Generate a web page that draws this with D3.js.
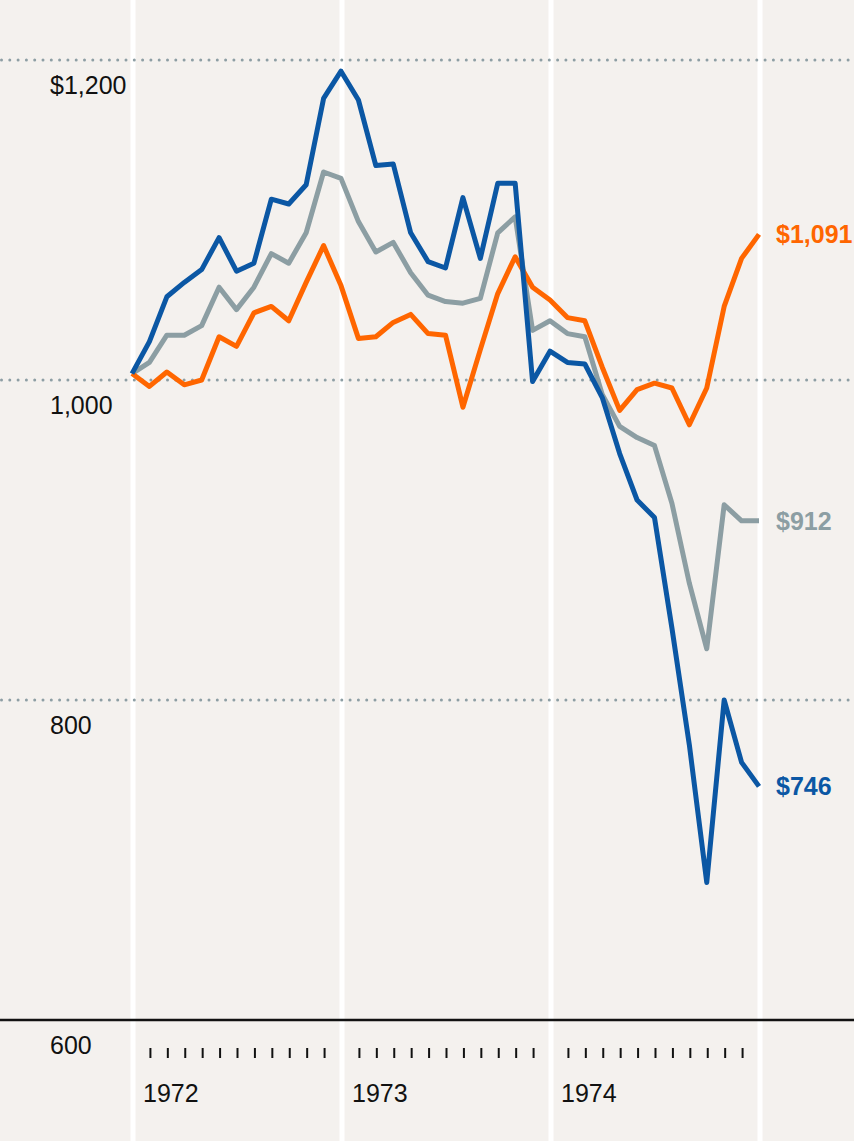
<!DOCTYPE html>
<meta charset="utf-8">
<style>
body { margin: 0; background: #f4f1ee; }
svg { display: block; }
text { font-family: "Liberation Sans", Arial, sans-serif; }
.grid line { stroke: #fff; stroke-width: 5px; }
.dots line { stroke: #8d9ea4; stroke-width: 3px; stroke-linecap: round; stroke-dasharray: 0 8.3; }
.series path { fill: none; stroke-width: 5px; stroke-linejoin: round; }
</style>
<svg width="854" height="1141"></svg>
<script src="https://d3js.org/d3.v7.min.js"></script>
<script>
// monthly values, Jan 1972 .. Jan 1975 (index 0..36)
var years = [1972, 1973, 1974];
var yTicks = [1200, 1000, 800];
var yLabels = ["$1,200", "1,000", "800", "600"];

var blue = [1004, 1024, 1052, 1061, 1069, 1089, 1068, 1073, 1113, 1110, 1122, 1176,
            1193, 1175, 1134, 1135, 1092, 1074, 1070, 1114, 1076, 1123, 1123, 999,
            1018, 1011, 1010, 989, 954, 925, 914, 845, 772, 686, 800, 761, 746];
var gray = [1004, 1011, 1028, 1028, 1034, 1058, 1044, 1058, 1079, 1073, 1092, 1130,
            1126, 1099, 1080, 1086, 1067, 1053, 1049, 1048, 1051, 1092, 1102, 1031,
            1037, 1029, 1027, 991, 971, 964, 959, 923, 873, 832, 922, 912, 912];
var orange = [1004, 996, 1005, 997, 1000, 1027, 1021, 1042, 1046, 1037, 1061, 1084,
              1059, 1026, 1027, 1036, 1041, 1029, 1028, 983, 1019, 1054, 1077, 1058,
              1050, 1039, 1037, 1008, 981, 994, 998, 995, 972, 995, 1046, 1076, 1091];

var series = [
  {name: "gray", values: gray, color: "#8c9ea3", label: "$912"},
  {name: "orange", values: orange, color: "#ff6600", label: "$1,091"},
  {name: "blue", values: blue, color: "#0b57a4", label: "$746"}
];

var svg = d3.select("svg"),
    width = +svg.attr("width"),
    height = +svg.attr("height");

var x = d3.scaleLinear().domain([0, 36]).range([132, 759]);
var y = d3.scaleLinear().domain([600, 1200]).range([1020, 60]);

// white year gridlines
svg.append("g").attr("class", "grid")
  .selectAll("line")
  .data([0, 12, 24, 36])
  .enter().append("line")
  .attr("x1", function(d) { return x(d) + 1; })
  .attr("x2", function(d) { return x(d) + 1; })
  .attr("y1", 0)
  .attr("y2", height);

// dotted value lines
svg.append("g").attr("class", "dots")
  .selectAll("line")
  .data(yTicks)
  .enter().append("line")
  .attr("x1", 1.5)
  .attr("x2", width)
  .attr("y1", function(d) { return y(d); })
  .attr("y2", function(d) { return y(d); });

// baseline
svg.append("line")
  .attr("x1", 0).attr("x2", width)
  .attr("y1", y(600)).attr("y2", y(600))
  .attr("stroke", "#111").attr("stroke-width", 2.5);

// y labels, under their lines
svg.append("g")
  .selectAll("text")
  .data([1200, 1000, 800, 600])
  .enter().append("text")
  .attr("x", 50)
  .attr("y", function(d) { return y(d) + 34; })
  .attr("font-size", 25)
  .attr("fill", "#111")
  .text(function(d, i) { return yLabels[i]; });

// month ticks
var months = d3.range(1, 36).filter(function(i) { return i % 12 != 0; });
svg.append("g")
  .selectAll("line")
  .data(months)
  .enter().append("line")
  .attr("x1", function(d) { return x(d) + 1; })
  .attr("x2", function(d) { return x(d) + 1; })
  .attr("y1", 1048).attr("y2", 1058)
  .attr("stroke", "#111").attr("stroke-width", 2);

// year labels
svg.append("g")
  .selectAll("text")
  .data(years)
  .enter().append("text")
  .attr("x", function(d, i) { return x(i * 12) + 11; })
  .attr("y", 1102)
  .attr("font-size", 25)
  .attr("fill", "#111")
  .text(function(d) { return d; });

var line = d3.line()
  .x(function(d, i) { return x(i); })
  .y(function(d) { return y(d); });

var g = svg.append("g").attr("class", "series");
g.selectAll("path")
  .data(series)
  .enter().append("path")
  .attr("stroke", function(d) { return d.color; })
  .attr("d", function(d) { return line(d.values); });

// end labels
svg.append("g")
  .selectAll("text")
  .data(series)
  .enter().append("text")
  .attr("x", x(36) + 17)
  .attr("y", function(d) { return y(d.values[36]); })
  .attr("dy", "0.35em")
  .attr("font-size", 25)
  .attr("font-weight", "bold")
  .attr("fill", function(d) { return d.color; })
  .text(function(d) { return d.label; });
</script>
